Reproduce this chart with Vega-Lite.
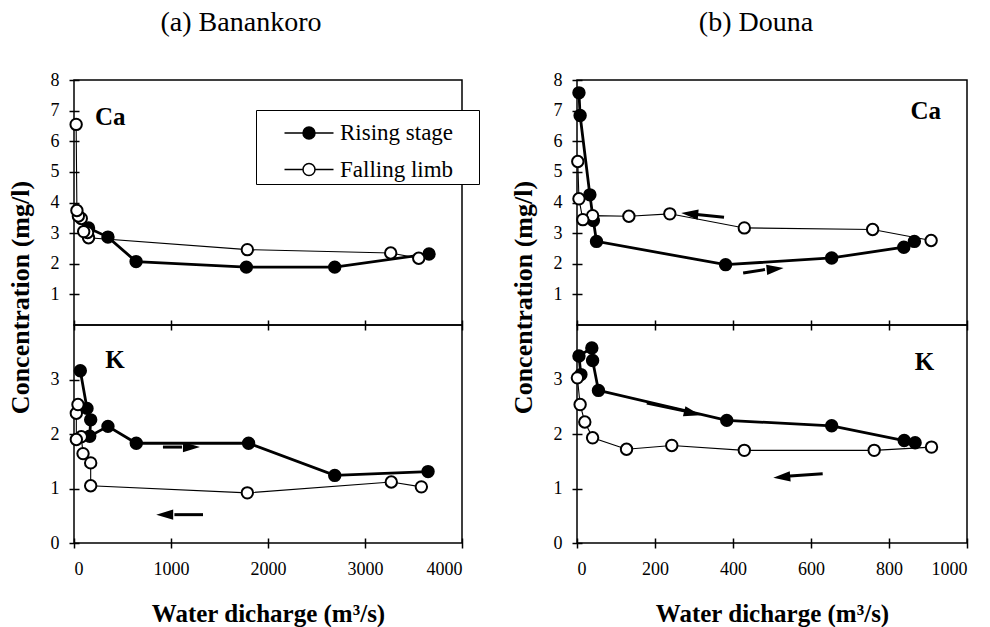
{
  "$schema": "https://vega.github.io/schema/vega-lite/v6.json",
  "background": "white",
  "padding": {"left": 6, "top": 8, "right": 5, "bottom": 5},
  "config": {
    "font": "Liberation Serif",
    "view": {"stroke": "black", "strokeWidth": 1.5},
    "axis": {"labelFont": "Liberation Serif", "labelFontSize": 18, "labelColor": "black", "labelOverlap": false, "format": "d", "tickCount": 12, "tickColor": "black", "tickWidth": 1.5, "domain": false, "grid": false, "titleFont": "Liberation Serif", "titleFontSize": 25, "titleFontWeight": "bold", "titleColor": "black"},
    "title": {"font": "Liberation Serif", "fontSize": 28, "fontWeight": "normal", "color": "black"}
  },
  "datasets": {
    "obs": [
      {"site": "A", "el": "Ca", "stage": "Rising stage", "i": 1, "q": 150, "c": 3.17},
      {"site": "A", "el": "Ca", "stage": "Rising stage", "i": 2, "q": 350, "c": 2.87},
      {"site": "A", "el": "Ca", "stage": "Rising stage", "i": 3, "q": 640, "c": 2.07},
      {"site": "A", "el": "Ca", "stage": "Rising stage", "i": 4, "q": 1777, "c": 1.89},
      {"site": "A", "el": "Ca", "stage": "Rising stage", "i": 5, "q": 2688, "c": 1.89},
      {"site": "A", "el": "Ca", "stage": "Rising stage", "i": 6, "q": 3660, "c": 2.32},
      {"site": "A", "el": "Ca", "stage": "Falling limb", "i": 1, "q": 3554, "c": 2.18},
      {"site": "A", "el": "Ca", "stage": "Falling limb", "i": 2, "q": 3265, "c": 2.35},
      {"site": "A", "el": "Ca", "stage": "Falling limb", "i": 3, "q": 1787, "c": 2.46},
      {"site": "A", "el": "Ca", "stage": "Falling limb", "i": 4, "q": 150, "c": 2.85},
      {"site": "A", "el": "Ca", "stage": "Falling limb", "i": 5, "q": 140, "c": 3.02},
      {"site": "A", "el": "Ca", "stage": "Falling limb", "i": 6, "q": 100, "c": 3.05},
      {"site": "A", "el": "Ca", "stage": "Falling limb", "i": 7, "q": 75, "c": 3.48},
      {"site": "A", "el": "Ca", "stage": "Falling limb", "i": 8, "q": 45, "c": 3.56},
      {"site": "A", "el": "Ca", "stage": "Falling limb", "i": 9, "q": 30, "c": 3.74},
      {"site": "A", "el": "Ca", "stage": "Falling limb", "i": 10, "q": 22, "c": 6.55},
      {"site": "A", "el": "K", "stage": "Rising stage", "i": 1, "q": 65, "c": 3.16},
      {"site": "A", "el": "K", "stage": "Rising stage", "i": 2, "q": 134, "c": 2.47},
      {"site": "A", "el": "K", "stage": "Rising stage", "i": 3, "q": 172, "c": 2.26},
      {"site": "A", "el": "K", "stage": "Rising stage", "i": 4, "q": 162, "c": 1.96},
      {"site": "A", "el": "K", "stage": "Rising stage", "i": 5, "q": 350, "c": 2.14},
      {"site": "A", "el": "K", "stage": "Rising stage", "i": 6, "q": 642, "c": 1.83},
      {"site": "A", "el": "K", "stage": "Rising stage", "i": 7, "q": 1800, "c": 1.83},
      {"site": "A", "el": "K", "stage": "Rising stage", "i": 8, "q": 2688, "c": 1.24},
      {"site": "A", "el": "K", "stage": "Rising stage", "i": 9, "q": 3650, "c": 1.31},
      {"site": "A", "el": "K", "stage": "Falling limb", "i": 1, "q": 3581, "c": 1.03},
      {"site": "A", "el": "K", "stage": "Falling limb", "i": 2, "q": 3271, "c": 1.12},
      {"site": "A", "el": "K", "stage": "Falling limb", "i": 3, "q": 1787, "c": 0.92},
      {"site": "A", "el": "K", "stage": "Falling limb", "i": 4, "q": 172, "c": 1.05},
      {"site": "A", "el": "K", "stage": "Falling limb", "i": 5, "q": 172, "c": 1.47},
      {"site": "A", "el": "K", "stage": "Falling limb", "i": 6, "q": 93, "c": 1.64},
      {"site": "A", "el": "K", "stage": "Falling limb", "i": 7, "q": 75, "c": 1.95},
      {"site": "A", "el": "K", "stage": "Falling limb", "i": 8, "q": 24, "c": 1.90},
      {"site": "A", "el": "K", "stage": "Falling limb", "i": 9, "q": 24, "c": 2.38},
      {"site": "A", "el": "K", "stage": "Falling limb", "i": 10, "q": 41, "c": 2.54},
      {"site": "B", "el": "Ca", "stage": "Rising stage", "i": 1, "q": 5, "c": 7.58},
      {"site": "B", "el": "Ca", "stage": "Rising stage", "i": 2, "q": 8, "c": 6.84},
      {"site": "B", "el": "Ca", "stage": "Rising stage", "i": 3, "q": 33, "c": 4.25},
      {"site": "B", "el": "Ca", "stage": "Rising stage", "i": 4, "q": 42, "c": 3.41},
      {"site": "B", "el": "Ca", "stage": "Rising stage", "i": 5, "q": 50, "c": 2.73},
      {"site": "B", "el": "Ca", "stage": "Rising stage", "i": 6, "q": 381, "c": 1.97},
      {"site": "B", "el": "Ca", "stage": "Rising stage", "i": 7, "q": 653, "c": 2.19},
      {"site": "B", "el": "Ca", "stage": "Rising stage", "i": 8, "q": 838, "c": 2.54},
      {"site": "B", "el": "Ca", "stage": "Rising stage", "i": 9, "q": 865, "c": 2.73},
      {"site": "B", "el": "Ca", "stage": "Falling limb", "i": 1, "q": 908, "c": 2.76},
      {"site": "B", "el": "Ca", "stage": "Falling limb", "i": 2, "q": 758, "c": 3.12},
      {"site": "B", "el": "Ca", "stage": "Falling limb", "i": 3, "q": 429, "c": 3.17},
      {"site": "B", "el": "Ca", "stage": "Falling limb", "i": 4, "q": 238, "c": 3.63},
      {"site": "B", "el": "Ca", "stage": "Falling limb", "i": 5, "q": 133, "c": 3.55},
      {"site": "B", "el": "Ca", "stage": "Falling limb", "i": 6, "q": 40, "c": 3.57},
      {"site": "B", "el": "Ca", "stage": "Falling limb", "i": 7, "q": 15, "c": 3.44},
      {"site": "B", "el": "Ca", "stage": "Falling limb", "i": 8, "q": 5, "c": 4.12},
      {"site": "B", "el": "Ca", "stage": "Falling limb", "i": 9, "q": 2, "c": 5.34},
      {"site": "B", "el": "K", "stage": "Rising stage", "i": 1, "q": 10, "c": 3.09},
      {"site": "B", "el": "K", "stage": "Rising stage", "i": 2, "q": 5, "c": 3.43},
      {"site": "B", "el": "K", "stage": "Rising stage", "i": 3, "q": 38, "c": 3.58},
      {"site": "B", "el": "K", "stage": "Rising stage", "i": 4, "q": 40, "c": 3.35},
      {"site": "B", "el": "K", "stage": "Rising stage", "i": 5, "q": 55, "c": 2.80},
      {"site": "B", "el": "K", "stage": "Rising stage", "i": 6, "q": 384, "c": 2.25},
      {"site": "B", "el": "K", "stage": "Rising stage", "i": 7, "q": 653, "c": 2.15},
      {"site": "B", "el": "K", "stage": "Rising stage", "i": 8, "q": 839, "c": 1.88},
      {"site": "B", "el": "K", "stage": "Rising stage", "i": 9, "q": 867, "c": 1.84},
      {"site": "B", "el": "K", "stage": "Falling limb", "i": 1, "q": 909, "c": 1.76},
      {"site": "B", "el": "K", "stage": "Falling limb", "i": 2, "q": 762, "c": 1.70},
      {"site": "B", "el": "K", "stage": "Falling limb", "i": 3, "q": 429, "c": 1.70},
      {"site": "B", "el": "K", "stage": "Falling limb", "i": 4, "q": 243, "c": 1.79},
      {"site": "B", "el": "K", "stage": "Falling limb", "i": 5, "q": 127, "c": 1.72},
      {"site": "B", "el": "K", "stage": "Falling limb", "i": 6, "q": 40, "c": 1.93},
      {"site": "B", "el": "K", "stage": "Falling limb", "i": 7, "q": 20, "c": 2.22},
      {"site": "B", "el": "K", "stage": "Falling limb", "i": 8, "q": 8, "c": 2.54},
      {"site": "B", "el": "K", "stage": "Falling limb", "i": 9, "q": 1, "c": 3.03}
    ],
    "arrows": [
      {"site": "A", "el": "K", "q": 917, "c": 1.76, "q2": 1113, "c2": 1.76, "hq": 1211, "hc": 1.76, "ang": 0},
      {"site": "A", "el": "K", "q": 1330, "c": 0.52, "q2": 1035, "c2": 0.52, "hq": 935, "hc": 0.52, "ang": 180},
      {"site": "B", "el": "Ca", "q": 377, "c": 3.52, "q2": 307, "c2": 3.61, "hq": 289, "hc": 3.63, "ang": 185},
      {"site": "B", "el": "Ca", "q": 426, "c": 1.70, "q2": 482, "c2": 1.81, "hq": 508, "hc": 1.83, "ang": -6},
      {"site": "B", "el": "K", "q": 179, "c": 2.57, "q2": 277, "c2": 2.42, "hq": 296, "hc": 2.38, "ang": 14},
      {"site": "B", "el": "K", "q": 630, "c": 1.27, "q2": 546, "c2": 1.23, "hq": 525, "hc": 1.21, "ang": 175}
    ],
    "labels": [
      {"site": "A", "el": "Ca", "q": 373, "c": 6.79, "text": "Ca"},
      {"site": "A", "el": "K", "q": 423, "c": 3.36, "text": "K"},
      {"site": "B", "el": "Ca", "q": 894, "c": 6.98, "text": "Ca"},
      {"site": "B", "el": "K", "q": 891, "c": 3.32, "text": "K"}
    ]
  },
  "spacing": 28,
  "resolve": {"scale": {"x": "independent", "y": "independent", "fill": "independent"}, "legend": {"fill": "independent"}},
  "hconcat": [
    {
      "bounds": "flush",
      "spacing": 0,
      "resolve": {"scale": {"x": "independent", "y": "independent", "fill": "independent"}, "legend": {"fill": "independent"}},
      "vconcat": [
        {
          "title": {"text": "(a) Banankoro", "anchor": "middle", "frame": "group", "dx": -27, "offset": 12, "baseline": "alphabetic"},
          "width": 388, "height": 245,
          "layer": [
            {"data": {"name": "obs"}, "transform": [{"filter": "datum.site === 'A' && datum.el === 'Ca' && datum.stage === 'Falling limb'"}],
             "mark": {"type": "line", "color": "black", "strokeWidth": 1.1},
             "encoding": {
               "x": {"field": "q", "type": "quantitative", "scale": {"domain": [0, 4000], "nice": false}, "axis": {"values": [0, 1000, 2000, 3000, 4000], "tickCount": 12, "labels": false, "title": null, "tickSize": 10, "offset": -5}},
               "y": {"field": "c", "type": "quantitative", "scale": {"domain": [0, 8], "nice": false}, "axis": {"values": [1, 2, 3, 4, 5, 6, 7, 8], "tickCount": 12, "labelOverlap": false, "tickSize": 10, "offset": -5, "labelPadding": 10, "title": "Concentration (mg/l)", "titleFontSize": 26, "titleAngle": 270, "titleAlign": "center", "titleBaseline": "alphabetic", "titleX": -51, "titleY": 217}},
               "order": {"field": "i", "type": "quantitative"}}},
            {"data": {"name": "obs"}, "transform": [{"filter": "datum.site === 'A' && datum.el === 'Ca' && datum.stage === 'Rising stage'"}],
             "mark": {"type": "line", "color": "black", "strokeWidth": 2.8},
             "encoding": {"x": {"field": "q", "type": "quantitative"}, "y": {"field": "c", "type": "quantitative"}, "order": {"field": "i", "type": "quantitative"}}},
            {"data": {"name": "obs"}, "transform": [{"filter": "datum.site === 'A' && datum.el === 'Ca'"}],
             "mark": {"type": "point", "filled": true, "stroke": "black", "strokeWidth": 2, "opacity": 1, "size": 130},
             "encoding": {"x": {"field": "q", "type": "quantitative"}, "y": {"field": "c", "type": "quantitative"},
               "fill": {"field": "stage", "type": "nominal", "scale": {"domain": ["Rising stage", "Falling limb"], "range": ["black", "white"]},
                 "legend": {"title": null, "orient": "none", "legendX": 182, "legendY": 30, "symbolType": "M-1.225,0L-0.3,0M0.3,0L1.225,0M-0.3,0A0.3,0.3,0,1,0,0.3,0A0.3,0.3,0,1,0,-0.3,0Z", "symbolSize": 1600, "symbolStrokeColor": "black", "symbolOffset": 30, "labelOffset": 10, "labelFont": "Liberation Serif", "labelFontSize": 23, "labelColor": "black", "labelExpr": "datum.label + '\u00a0\u00a0\u00a0\u00a0\u200b'", "padding": 2, "rowPadding": 3.5, "strokeColor": "black", "fillColor": "white",
                   "encode": {"symbols": {"update": {"strokeWidth": {"signal": "datum.value === 'Rising stage' ? 3 : 1.4"}, "stroke": {"value": "black"}}}}}}}},
            {"data": {"name": "labels"}, "transform": [{"filter": "datum.site === 'A' && datum.el === 'Ca'"}],
             "mark": {"type": "text", "font": "Liberation Serif", "fontSize": 25, "fontWeight": "bold", "color": "black", "align": "center", "baseline": "middle"},
             "encoding": {"x": {"field": "q", "type": "quantitative"}, "y": {"field": "c", "type": "quantitative"}, "text": {"field": "text"}}}
          ]
        },
        {
          "width": 388, "height": 218,
          "layer": [
            {"data": {"name": "obs"}, "transform": [{"filter": "datum.site === 'A' && datum.el === 'K' && datum.stage === 'Falling limb'"}],
             "mark": {"type": "line", "color": "black", "strokeWidth": 1.1},
             "encoding": {
               "x": {"field": "q", "type": "quantitative", "scale": {"domain": [0, 4000], "nice": false}, "axis": {"values": [0, 1000, 2000, 3000, 4000], "tickCount": 12, "labelOverlap": false, "tickSize": 10, "offset": -5, "labelPadding": 12, "title": "Water dicharge (m³/s)", "titlePadding": 23}},
               "y": {"field": "c", "type": "quantitative", "scale": {"domain": [0, 4], "nice": false}, "axis": {"values": [0, 1, 2, 3], "tickCount": 12, "labelOverlap": false, "tickSize": 10, "offset": -5, "labelPadding": 10, "title": null}},
               "order": {"field": "i", "type": "quantitative"}}},
            {"data": {"name": "obs"}, "transform": [{"filter": "datum.site === 'A' && datum.el === 'K' && datum.stage === 'Rising stage'"}],
             "mark": {"type": "line", "color": "black", "strokeWidth": 2.8},
             "encoding": {"x": {"field": "q", "type": "quantitative"}, "y": {"field": "c", "type": "quantitative"}, "order": {"field": "i", "type": "quantitative"}}},
            {"data": {"name": "obs"}, "transform": [{"filter": "datum.site === 'A' && datum.el === 'K'"}],
             "mark": {"type": "point", "filled": true, "stroke": "black", "strokeWidth": 2, "opacity": 1, "size": 130},
             "encoding": {"x": {"field": "q", "type": "quantitative"}, "y": {"field": "c", "type": "quantitative"},
               "fill": {"field": "stage", "type": "nominal", "scale": {"domain": ["Rising stage", "Falling limb"], "range": ["black", "white"]}, "legend": null}}},
            {"data": {"name": "arrows"}, "transform": [{"filter": "datum.site === 'A' && datum.el === 'K'"}],
             "mark": {"type": "rule", "color": "black", "strokeWidth": 3},
             "encoding": {"x": {"field": "q", "type": "quantitative"}, "y": {"field": "c", "type": "quantitative"}, "x2": {"field": "q2"}, "y2": {"field": "c2"}}},
            {"data": {"name": "arrows"}, "transform": [{"filter": "datum.site === 'A' && datum.el === 'K'"}],
             "mark": {"type": "point", "shape": "M1,0L-1,-0.6L-1,0.6Z", "filled": true, "color": "black", "size": 289, "opacity": 1},
             "encoding": {"x": {"field": "hq", "type": "quantitative"}, "y": {"field": "hc", "type": "quantitative"}, "angle": {"field": "ang", "type": "quantitative", "scale": null}}},
            {"data": {"name": "labels"}, "transform": [{"filter": "datum.site === 'A' && datum.el === 'K'"}],
             "mark": {"type": "text", "font": "Liberation Serif", "fontSize": 25, "fontWeight": "bold", "color": "black", "align": "center", "baseline": "middle"},
             "encoding": {"x": {"field": "q", "type": "quantitative"}, "y": {"field": "c", "type": "quantitative"}, "text": {"field": "text"}}}
          ]
        }
      ]
    },
    {
      "bounds": "flush",
      "spacing": 0,
      "resolve": {"scale": {"x": "independent", "y": "independent", "fill": "independent"}, "legend": {"fill": "independent"}},
      "vconcat": [
        {
          "title": {"text": "(b) Douna", "anchor": "middle", "frame": "group", "dx": -16, "offset": 12, "baseline": "alphabetic"},
          "width": 390, "height": 245,
          "layer": [
            {"data": {"name": "obs"}, "transform": [{"filter": "datum.site === 'B' && datum.el === 'Ca' && datum.stage === 'Falling limb'"}],
             "mark": {"type": "line", "color": "black", "strokeWidth": 1.1},
             "encoding": {
               "x": {"field": "q", "type": "quantitative", "scale": {"domain": [0, 1000], "nice": false}, "axis": {"values": [0, 200, 400, 600, 800, 1000], "tickCount": 12, "labels": false, "title": null, "tickSize": 10, "offset": -5}},
               "y": {"field": "c", "type": "quantitative", "scale": {"domain": [0, 8], "nice": false}, "axis": {"values": [1, 2, 3, 4, 5, 6, 7, 8], "tickCount": 12, "labelOverlap": false, "tickSize": 10, "offset": -5, "labelPadding": 10, "title": "Concentration (mg/l)", "titleFontSize": 26, "titleAngle": 270, "titleAlign": "center", "titleBaseline": "alphabetic", "titleX": -51, "titleY": 217}},
               "order": {"field": "i", "type": "quantitative"}}},
            {"data": {"name": "obs"}, "transform": [{"filter": "datum.site === 'B' && datum.el === 'Ca' && datum.stage === 'Rising stage'"}],
             "mark": {"type": "line", "color": "black", "strokeWidth": 2.8},
             "encoding": {"x": {"field": "q", "type": "quantitative"}, "y": {"field": "c", "type": "quantitative"}, "order": {"field": "i", "type": "quantitative"}}},
            {"data": {"name": "obs"}, "transform": [{"filter": "datum.site === 'B' && datum.el === 'Ca'"}],
             "mark": {"type": "point", "filled": true, "stroke": "black", "strokeWidth": 2, "opacity": 1, "size": 130},
             "encoding": {"x": {"field": "q", "type": "quantitative"}, "y": {"field": "c", "type": "quantitative"},
               "fill": {"field": "stage", "type": "nominal", "scale": {"domain": ["Rising stage", "Falling limb"], "range": ["black", "white"]}, "legend": null}}},
            {"data": {"name": "arrows"}, "transform": [{"filter": "datum.site === 'B' && datum.el === 'Ca'"}],
             "mark": {"type": "rule", "color": "black", "strokeWidth": 3},
             "encoding": {"x": {"field": "q", "type": "quantitative"}, "y": {"field": "c", "type": "quantitative"}, "x2": {"field": "q2"}, "y2": {"field": "c2"}}},
            {"data": {"name": "arrows"}, "transform": [{"filter": "datum.site === 'B' && datum.el === 'Ca'"}],
             "mark": {"type": "point", "shape": "M1,0L-1,-0.6L-1,0.6Z", "filled": true, "color": "black", "size": 289, "opacity": 1},
             "encoding": {"x": {"field": "hq", "type": "quantitative"}, "y": {"field": "hc", "type": "quantitative"}, "angle": {"field": "ang", "type": "quantitative", "scale": null}}},
            {"data": {"name": "labels"}, "transform": [{"filter": "datum.site === 'B' && datum.el === 'Ca'"}],
             "mark": {"type": "text", "font": "Liberation Serif", "fontSize": 25, "fontWeight": "bold", "color": "black", "align": "center", "baseline": "middle"},
             "encoding": {"x": {"field": "q", "type": "quantitative"}, "y": {"field": "c", "type": "quantitative"}, "text": {"field": "text"}}}
          ]
        },
        {
          "width": 390, "height": 218,
          "layer": [
            {"data": {"name": "obs"}, "transform": [{"filter": "datum.site === 'B' && datum.el === 'K' && datum.stage === 'Falling limb'"}],
             "mark": {"type": "line", "color": "black", "strokeWidth": 1.1},
             "encoding": {
               "x": {"field": "q", "type": "quantitative", "scale": {"domain": [0, 1000], "nice": false}, "axis": {"values": [0, 200, 400, 600, 800, 1000], "tickCount": 12, "labelOverlap": false, "tickSize": 10, "offset": -5, "labelPadding": 12, "title": "Water dicharge (m³/s)", "titlePadding": 23}},
               "y": {"field": "c", "type": "quantitative", "scale": {"domain": [0, 4], "nice": false}, "axis": {"values": [0, 1, 2, 3], "tickCount": 12, "labelOverlap": false, "tickSize": 10, "offset": -5, "labelPadding": 10, "title": null}},
               "order": {"field": "i", "type": "quantitative"}}},
            {"data": {"name": "obs"}, "transform": [{"filter": "datum.site === 'B' && datum.el === 'K' && datum.stage === 'Rising stage'"}],
             "mark": {"type": "line", "color": "black", "strokeWidth": 2.8},
             "encoding": {"x": {"field": "q", "type": "quantitative"}, "y": {"field": "c", "type": "quantitative"}, "order": {"field": "i", "type": "quantitative"}}},
            {"data": {"name": "obs"}, "transform": [{"filter": "datum.site === 'B' && datum.el === 'K'"}],
             "mark": {"type": "point", "filled": true, "stroke": "black", "strokeWidth": 2, "opacity": 1, "size": 130},
             "encoding": {"x": {"field": "q", "type": "quantitative"}, "y": {"field": "c", "type": "quantitative"},
               "fill": {"field": "stage", "type": "nominal", "scale": {"domain": ["Rising stage", "Falling limb"], "range": ["black", "white"]}, "legend": null}}},
            {"data": {"name": "arrows"}, "transform": [{"filter": "datum.site === 'B' && datum.el === 'K'"}],
             "mark": {"type": "rule", "color": "black", "strokeWidth": 3},
             "encoding": {"x": {"field": "q", "type": "quantitative"}, "y": {"field": "c", "type": "quantitative"}, "x2": {"field": "q2"}, "y2": {"field": "c2"}}},
            {"data": {"name": "arrows"}, "transform": [{"filter": "datum.site === 'B' && datum.el === 'K'"}],
             "mark": {"type": "point", "shape": "M1,0L-1,-0.6L-1,0.6Z", "filled": true, "color": "black", "size": 289, "opacity": 1},
             "encoding": {"x": {"field": "hq", "type": "quantitative"}, "y": {"field": "hc", "type": "quantitative"}, "angle": {"field": "ang", "type": "quantitative", "scale": null}}},
            {"data": {"name": "labels"}, "transform": [{"filter": "datum.site === 'B' && datum.el === 'K'"}],
             "mark": {"type": "text", "font": "Liberation Serif", "fontSize": 25, "fontWeight": "bold", "color": "black", "align": "center", "baseline": "middle"},
             "encoding": {"x": {"field": "q", "type": "quantitative"}, "y": {"field": "c", "type": "quantitative"}, "text": {"field": "text"}}}
          ]
        }
      ]
    }
  ]
}
